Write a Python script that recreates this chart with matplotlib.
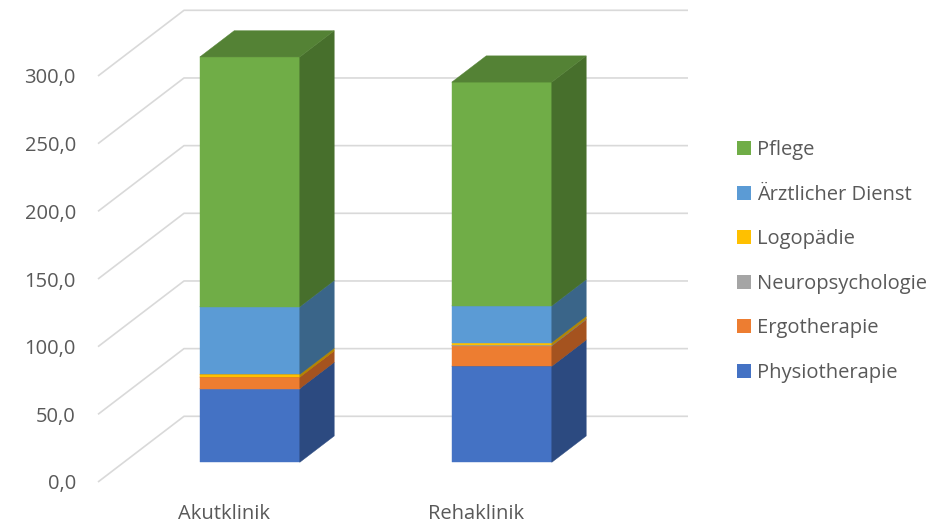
import matplotlib
matplotlib.use("Agg")
import matplotlib.pyplot as plt
from matplotlib.patches import Polygon
from matplotlib.lines import Line2D

plt.rcParams['font.family'] = ['Open Sans', 'DejaVu Sans']

# ---- data -------------------------------------------------------------
categories = ["Akutklinik", "Rehaklinik"]
series = ["Physiotherapie", "Ergotherapie", "Neuropsychologie",
          "Logopädie", "Ärztlicher Dienst", "Pflege"]
physiotherapie = [54.5, 71.0]
ergotherapie = [8.4, 15.0]
neuropsychologie = [0.0, 0.5]
logopaedie = [2.0, 2.0]
aerztlicher_dienst = [50.0, 27.1]
pflege = [184.6, 165.3]
y_ticks = [0, 50, 100, 150, 200, 250, 300]
y_tick_labels = ["0,0", "50,0", "100,0", "150,0", "200,0", "250,0", "300,0"]

values = [physiotherapie, ergotherapie, neuropsychologie,
          logopaedie, aerztlicher_dienst, pflege]

# face colours: front, side, top
colors = {
    "Physiotherapie":    ("#4472C4", "#2C4A80", "#3A62A8"),
    "Ergotherapie":      ("#ED7D31", "#A5531F", "#C9682A"),
    "Neuropsychologie":  ("#A5A5A5", "#737373", "#8C8C8C"),
    "Logopädie":         ("#FFC000", "#B38600", "#D9A300"),
    "Ärztlicher Dienst": ("#5B9BD5", "#3A6589", "#4E84B5"),
    "Pflege":            ("#70AD47", "#476F2C", "#548235"),
}

text_color = "#595959"
grid_color = "#D9D9D9"

W, H = 936, 526
fig = plt.figure(figsize=(W / 100, H / 100), dpi=100)
# front plane of the 3-D box
ax_left, ax_right, ax_bottom, ax_top = 98, 602, 482, 76
ax = fig.add_axes([ax_left / W, (H - ax_bottom) / H,
                   (ax_right - ax_left) / W, (ax_bottom - ax_top) / H])
ax.set_xlim(-0.5, 1.5)
ax.set_ylim(0, 300)
for s in ax.spines.values():
    s.set_visible(False)

# oblique depth vector (full depth of the box) in data units
px_per_x = (ax_right - ax_left) / 2.0
px_per_y = (ax_bottom - ax_top) / 300.0
DX = 86 / px_per_x
DY = 65.7 / px_per_y

# gridlines: side wall diagonal + back wall horizontal
for v in y_ticks:
    ax.plot([-0.5, -0.5 + DX, 1.5 + DX], [v, v + DY, v + DY],
            color=grid_color, lw=1.2, clip_on=False, zorder=1,
            solid_capstyle='butt')

# bars
bar_w = 100 / px_per_x
d0, d1 = 0.3, 0.7
for ci, c in enumerate(range(len(categories))):
    bottom = 0.0
    for name, vals in zip(series, values):
        h = vals[ci]
        if h <= 0:
            continue
        front, side, top = colors[name]
        xl = c - bar_w / 2 + d0 * DX
        xr = xl + bar_w
        y0 = bottom + d0 * DY
        y1 = y0 + h
        ddx, ddy = (d1 - d0) * DX, (d1 - d0) * DY
        ax.add_patch(Polygon([(xl, y0), (xr, y0), (xr, y1), (xl, y1)],
                             closed=True, fc=front, ec=front, lw=0.3,
                             zorder=3, clip_on=False))
        ax.add_patch(Polygon([(xr, y0), (xr + ddx, y0 + ddy),
                              (xr + ddx, y1 + ddy), (xr, y1)],
                             closed=True, fc=side, ec=side, lw=0.3,
                             zorder=3, clip_on=False))
        ax.add_patch(Polygon([(xl, y1), (xr, y1), (xr + ddx, y1 + ddy),
                              (xl + ddx, y1 + ddy)],
                             closed=True, fc=top, ec=top, lw=0.3,
                             zorder=3, clip_on=False))
        bottom += h

ax.set_yticks(y_ticks)
ax.set_yticklabels(y_tick_labels)
ax.set_xticks(range(len(categories)))
ax.set_xticklabels(categories)
ax.tick_params(axis='y', length=0, pad=16, labelsize=14.5, labelcolor=text_color)
ax.tick_params(axis='x', length=0, pad=16, labelsize=14.5, labelcolor=text_color)

# legend (top entry = top of stack)
handles = [Line2D([], [], marker='s', ls='none', markersize=9.6,
                  markerfacecolor=colors[n][0], markeredgewidth=0)
           for n in series[::-1]]
fig.legend(handles, series[::-1], loc='center left',
           bbox_to_anchor=(728 / W, 1 - 261.5 / H), frameon=False,
           fontsize=14.5, labelcolor=text_color, handlelength=0.6,
           handletextpad=0.35, labelspacing=1.22, borderpad=0)

fig.savefig("out.png", dpi=100)
